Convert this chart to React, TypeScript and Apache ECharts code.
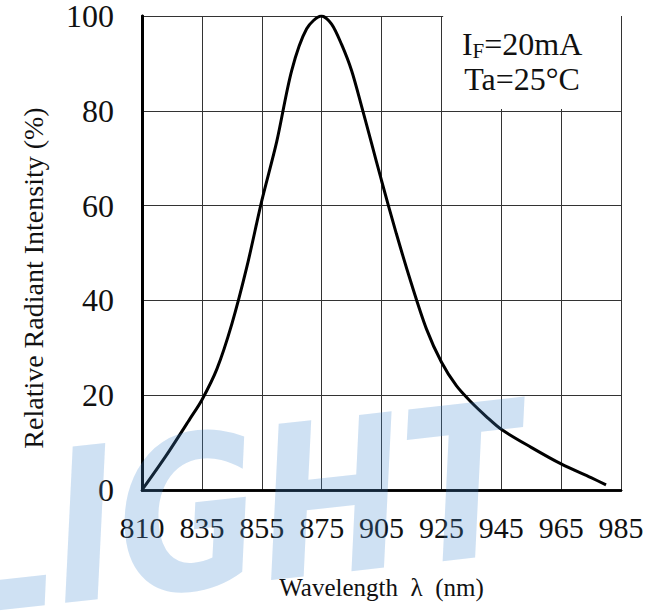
import React, { useEffect, useRef } from "react";
import * as echarts from "echarts";

const TICK_LABELS = [810, 835, 855, 875, 905, 925, 945, 965, 985];
const Y_TICKS = [0, 20, 40, 60, 80, 100];

const WAVELENGTH = [
  810, 820, 830, 835, 840, 845, 850, 855, 860, 865, 870, 875, 880, 885, 890,
  895, 900, 905, 910, 915, 920, 925, 930, 935, 940, 945, 955, 965, 975, 980,
];
const INTENSITY = [
  0, 7.2, 15, 19, 25.5, 35, 47, 61, 73.5, 88.5, 97.3, 100, 98.3, 94, 88.5, 81,
  73.2, 65.3, 54, 43.5, 34, 27, 22, 18.5, 15.5, 12.8, 9, 5.5, 2.6, 1.1,
];

// map a wavelength onto the evenly spaced (but unevenly labelled) grid
function toPos(w: number): number {
  for (let i = 0; i < TICK_LABELS.length - 1; i++) {
    const a = TICK_LABELS[i];
    const b = TICK_LABELS[i + 1];
    if (w <= b || i === TICK_LABELS.length - 2) return i + (w - a) / (b - a);
  }
  return 0;
}

const FONT = "Liberation Serif";

export default function App() {
  const ref = useRef<HTMLDivElement>(null);
  useEffect(() => {
    if (!ref.current) return;
    const chart = echarts.init(ref.current, undefined, { renderer: "svg" });
    const nMax = TICK_LABELS.length - 1;
    const data = WAVELENGTH.map((w, i) => [toPos(w), INTENSITY[i]]);
    chart.setOption({
      animation: false,
      backgroundColor: "#ffffff",
      textStyle: { fontFamily: FONT },
      grid: { left: 142, top: 14, width: 479, height: 476, show: false },
      xAxis: [
        {
          type: "value",
          min: 0,
          max: nMax,
          interval: 1,
          position: "bottom",
          axisLine: { show: true, lineStyle: { color: "#000", width: 2.5 } },
          axisTick: { show: false },
          splitLine: { show: true, lineStyle: { color: "#333", width: 1 } },
          axisLabel: {
            formatter: (v: number) => String(TICK_LABELS[Math.round(v)]),
            fontFamily: FONT,
            fontSize: 30,
            color: "#111",
            margin: 22,
          },
          name: "Wavelength  λ  (nm)",
          nameLocation: "middle",
          nameGap: 85,
          nameTextStyle: { fontFamily: FONT, fontSize: 25, color: "#111" },
        },
        {
          type: "value",
          min: 0,
          max: nMax,
          position: "top",
          z: 5,
          axisLine: { show: true, lineStyle: { color: "#000", width: 2.5 } },
          axisTick: { show: false },
          axisLabel: { show: false },
          splitLine: { show: false },
        },
      ],
      yAxis: [
        {
          type: "value",
          min: 0,
          max: 100,
          interval: 20,
          axisLine: { show: true, lineStyle: { color: "#000", width: 2.5 } },
          axisTick: { show: false },
          splitLine: { show: true, lineStyle: { color: "#333", width: 1 } },
          axisLabel: {
            fontFamily: FONT,
            fontSize: 32,
            color: "#111",
            margin: 28,
            formatter: (v: number) => (Y_TICKS.includes(v) ? String(v) : ""),
          },
          name: "Relative Radiant Intensity (%)",
          nameLocation: "middle",
          nameGap: 95,
          nameTextStyle: {
            fontFamily: FONT,
            fontSize: 28,
            color: "#111",
            padding: [0, 50, 0, 0],
          },
        },
        {
          type: "value",
          min: 0,
          max: 100,
          position: "right",
          z: 5,
          axisLine: { show: true, lineStyle: { color: "#000", width: 3 } },
          axisTick: { show: false },
          axisLabel: { show: false },
          splitLine: { show: false },
        },
      ],
      series: [
        {
          type: "line",
          xAxisIndex: 0,
          yAxisIndex: 0,
          data,
          smooth: 0.3,
          showSymbol: false,
          lineStyle: { color: "#000", width: 3 },
          markArea: {
            silent: true,
            itemStyle: { color: "#ffffff", opacity: 1 },
            label: {
              show: true,
              position: "inside",
              offset: [-10, -1],
              formatter: "{a|I}{b|F}{a|=20mA}\n{a|Ta=25°C}",
              rich: {
                a: { fontFamily: FONT, fontSize: 32, color: "#111", lineHeight: 35 },
                b: {
                  fontFamily: FONT,
                  fontSize: 21,
                  color: "#111",
                  lineHeight: 26,
                  verticalAlign: "bottom",
                },
              },
            },
            data: [
              [
                { xAxis: toPos(925) + 0.03, yAxis: 80.4 },
                { xAxis: nMax, yAxis: 100 },
              ],
            ],
          },
        },
      ],
      graphic: [
        {
          type: "text",
          x: -45,
          y: 648,
          rotation: 0.11,
          scaleX: 0.82,
          z: 100,
          silent: true,
          style: {
            text: "LIGHT",
            font: 'italic bold 212px "DejaVu Sans"',
            fill: "rgba(70,140,210,0.26)",
            verticalAlign: "bottom",
          },
        },
      ],
    });
    return () => chart.dispose();
  }, []);
  return (
    <div
      ref={ref}
      style={{ position: "fixed", left: 0, top: 0, width: 665, height: 611 }}
    />
  );
}
